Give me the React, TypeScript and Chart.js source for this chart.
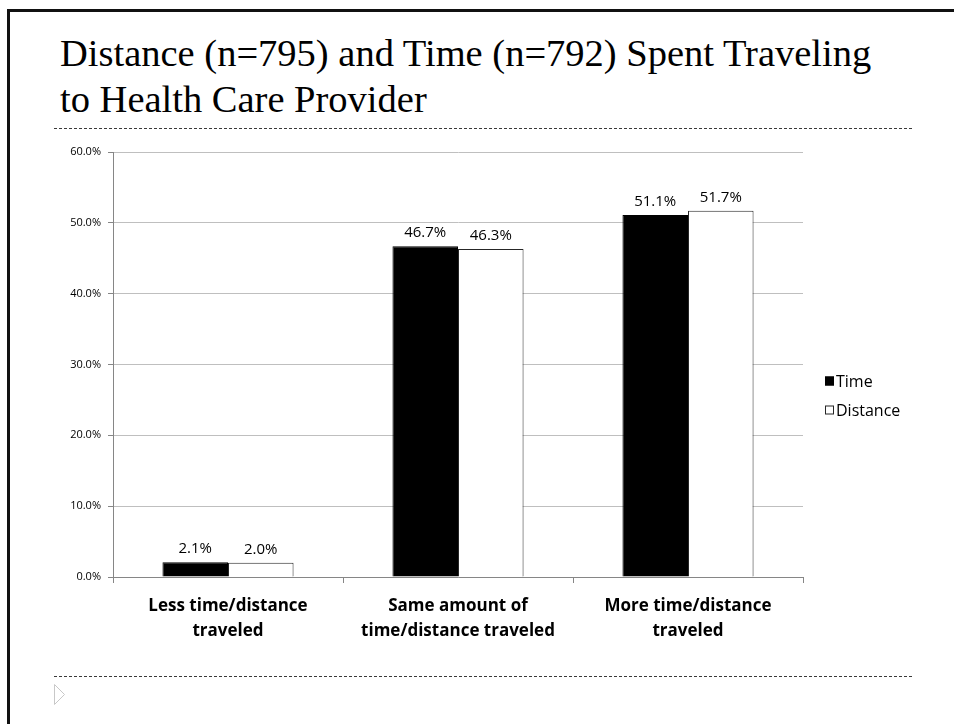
import React, { useEffect, useRef } from "react";
import { Chart, registerables } from "chart.js";

Chart.register(...registerables);

// Survey responses, percent of respondents
const categories: string[][] = [
  ["Less time/distance", "traveled"],
  ["Same amount of", "time/distance traveled"],
  ["More time/distance", "traveled"],
];
const seriesNames = ["Time", "Distance"];
const timeValues = [2.1, 46.7, 51.1];
const distanceValues = [2.0, 46.3, 51.7];
const yMin = 0;
const yMax = 60;
const yStep = 10;

const SANS = "'Open Sans', 'DejaVu Sans', sans-serif";

// Value labels above each bar
const valueLabels = {
  id: "valueLabels",
  afterDatasetsDraw(chart: any) {
    const ctx = chart.ctx;
    ctx.save();
    ctx.fillStyle = "#000";
    ctx.font = `15px ${SANS}`;
    ctx.textAlign = "center";
    ctx.textBaseline = "alphabetic";
    chart.data.datasets.forEach((ds: any, i: number) => {
      const meta = chart.getDatasetMeta(i);
      meta.data.forEach((el: any, j: number) => {
        const v = ds.data[j] as number;
        ctx.fillText(v.toFixed(1) + "%", el.x, el.y - 9);
      });
    });
    ctx.restore();
  },
};

// Legend to the right of the plot area, with square swatches
const sideLegend = {
  id: "sideLegend",
  afterDraw(chart: any) {
    const ctx = chart.ctx;
    const area = chart.chartArea;
    const x = area.right + 22;
    const y0 = area.top + 229;
    const rowGap = 29;
    ctx.save();
    ctx.font = `16px ${SANS}`;
    ctx.textBaseline = "middle";
    ctx.textAlign = "left";
    chart.data.datasets.forEach((ds: any, i: number) => {
      const cy = y0 + i * rowGap;
      ctx.fillStyle = ds.backgroundColor;
      ctx.fillRect(x, cy - 4.5, 9, 9);
      ctx.strokeStyle = ds.borderColor;
      ctx.lineWidth = 1;
      ctx.strokeRect(x + 0.5, cy - 4, 8, 8);
      ctx.fillStyle = "#000";
      ctx.fillText(ds.label, x + 11, cy + 1);
    });
    ctx.restore();
  },
};

function BarChart() {
  const ref = useRef<HTMLCanvasElement | null>(null);

  useEffect(() => {
    if (!ref.current) return;
    const chart = new Chart(ref.current, {
      type: "bar",
      data: {
        labels: categories,
        datasets: [
          {
            label: seriesNames[0],
            data: timeValues,
            backgroundColor: "#000000",
            borderColor: "#000000",
            borderWidth: 1,
            categoryPercentage: 0.57,
            barPercentage: 1.0,
          },
          {
            label: seriesNames[1],
            data: distanceValues,
            backgroundColor: "#ffffff",
            borderColor: "#262626",
            borderWidth: 1,
            categoryPercentage: 0.57,
            barPercentage: 1.0,
          },
        ],
      },
      options: {
        animation: false,
        responsive: false,
        maintainAspectRatio: false,
        layout: { padding: { left: 0, right: 151, top: 152, bottom: 67 } },
        plugins: {
          legend: { display: false },
          tooltip: { enabled: false },
          title: { display: false },
        },
        scales: {
          x: {
            afterFit: (s: any) => {
              s.height = 80;
            },
            grid: {
              display: true,
              drawOnChartArea: false,
              drawTicks: true,
              tickLength: 6,
              tickColor: "#868686",
              offset: true,
            },
            border: { color: "#868686", width: 1 },
            ticks: {
              color: "#000",
              padding: 11,
              maxRotation: 0,
              autoSkip: false,
              font: { family: SANS, size: 17, weight: "bold", lineHeight: 1.47 },
            },
          },
          y: {
            min: yMin,
            max: yMax,
            afterFit: (s: any) => {
              s.width = 113;
            },
            grid: {
              color: "#bfbfbf",
              tickColor: "#868686",
              tickLength: 5,
            },
            border: { color: "#868686", width: 1 },
            ticks: {
              stepSize: yStep,
              color: "#000",
              padding: 7,
              font: { family: SANS, size: 11 },
              callback: (v: any) => Number(v).toFixed(1) + "%",
            },
          },
        },
      },
      plugins: [valueLabels, sideLegend],
    });
    return () => chart.destroy();
  }, []);

  return (
    <canvas
      ref={ref}
      width={954}
      height={724}
      style={{ position: "absolute", left: 0, top: 0, width: 954, height: 724 }}
    />
  );
}

const dashed: React.CSSProperties = {
  position: "absolute",
  left: 54,
  width: 860,
  height: 1,
  backgroundImage:
    "repeating-linear-gradient(to right, #3a3a3a 0px, #3a3a3a 3px, transparent 3px, transparent 5px)",
};

export default function App() {
  return (
    <div
      style={{
        position: "absolute",
        left: 0,
        top: 0,
        width: 954,
        height: 724,
        background: "#fff",
        overflow: "hidden",
      }}
    >
      <div
        style={{
          position: "absolute",
          left: 7,
          top: 9,
          width: 960,
          height: 730,
          borderTop: "3px solid #111",
          borderLeft: "3px solid #111",
        }}
      />
      <div
        style={{
          position: "absolute",
          left: 60,
          top: 30,
          fontFamily: "'Liberation Serif', 'DejaVu Serif', serif",
          fontSize: 38.5,
          lineHeight: "46px",
          color: "#000",
          whiteSpace: "nowrap",
        }}
      >
        Distance (n=795) and Time (n=792) Spent Traveling
        <br />
        to Health Care Provider
      </div>
      <div style={{ ...dashed, top: 128 }} />
      <div style={{ ...dashed, top: 676 }} />
      <svg
        width={14}
        height={22}
        style={{ position: "absolute", left: 54, top: 684 }}
      >
        <polygon points="0.5,0.5 10.5,10.5 0.5,20.5" fill="none" stroke="#c8c8c8" strokeWidth={1} />
      </svg>
      <BarChart />
    </div>
  );
}
